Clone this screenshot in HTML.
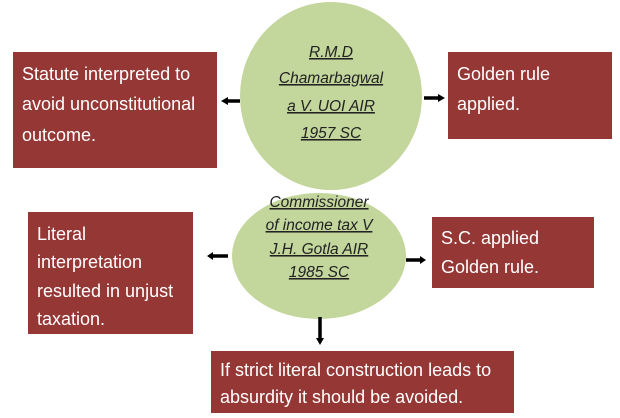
<!DOCTYPE html>
<html><head><meta charset="utf-8"><style>
html,body{margin:0;padding:0;background:#fff}
svg{display:block}
.b{font-family:"Liberation Sans",sans-serif;font-size:18px;fill:#fff}
.c{font-family:"Liberation Sans",sans-serif;font-size:15.5px;font-style:italic;fill:#222;text-decoration:underline}
</style></head><body>
<svg width="620" height="418" viewBox="0 0 620 418" xmlns="http://www.w3.org/2000/svg">
<rect x="13" y="52" width="204" height="116" fill="#953735"/>
<rect x="448" y="52" width="164" height="87" fill="#953735"/>
<ellipse cx="331" cy="96" rx="91" ry="94" fill="#c3d69b"/>
<ellipse cx="319" cy="256" rx="87" ry="63" fill="#c3d69b"/>
<rect x="28" y="212" width="165" height="122" fill="#953735"/>
<rect x="432" y="217" width="162" height="71" fill="#953735"/>
<rect x="211" y="351" width="303" height="62" fill="#953735"/>
<g stroke="#000" stroke-width="3.5">
<line x1="228" y1="101" x2="240" y2="101"/>
<line x1="424" y1="98" x2="438" y2="98"/>
<line x1="213" y1="256" x2="228" y2="256"/>
<line x1="406" y1="260" x2="420" y2="260"/>
<line x1="320" y1="317" x2="320" y2="338"/>
</g>
<g fill="#000">
<polygon points="221,101 228,97 228,105"/>
<polygon points="445,98 438,94 438,102"/>
<polygon points="207,256 213,252 213,260"/>
<polygon points="426,260 420,256 420,264"/>
<polygon points="320,345 316,338 324,338"/>
</g>
<g class="b">
<text x="22" y="80">Statute interpreted to</text>
<text x="22" y="110">avoid unconstitutional</text>
<text x="22" y="141">outcome.</text>
<text x="457" y="80">Golden rule</text>
<text x="457" y="110">applied.</text>
<text x="37" y="240">Literal</text>
<text x="37" y="268">interpretation</text>
<text x="37" y="297">resulted in unjust</text>
<text x="37" y="325">taxation.</text>
<text x="441" y="244">S.C. applied</text>
<text x="441" y="273">Golden rule.</text>
<text x="220" y="376">If strict literal construction leads to</text>
<text x="220" y="403">absurdity it should be avoided.</text>
</g>
<g class="c" text-anchor="middle">
<text x="331" y="57">R.M.D</text>
<text x="331" y="83">Chamarbagwal</text>
<text x="331" y="111">a V. UOI AIR</text>
<text x="331" y="138">1957 SC</text>
<text x="319" y="207">Commissioner</text>
<text x="319" y="230">of income tax V</text>
<text x="319" y="254">J.H. Gotla AIR</text>
<text x="319" y="277">1985 SC</text>
</g>
</svg>
</body></html>
